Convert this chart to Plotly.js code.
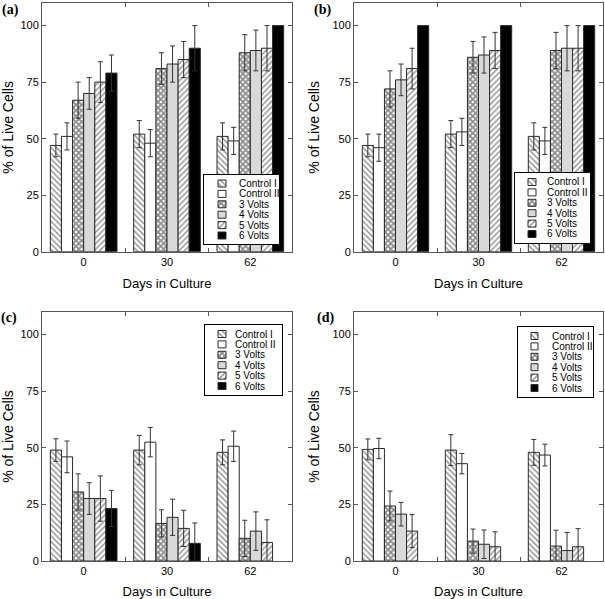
<!DOCTYPE html>
<html><head><meta charset="utf-8">
<script src="https://cdn.plot.ly/plotly-3.0.1.min.js"></script>
<style>html,body{margin:0;padding:0;background:#fff}#chart{width:605px;height:599px}</style>
</head><body><div id="chart"></div>
<script>
// ---------- DATA ----------
const days = ['0', '30', '62'];
const seriesNames = ['Control I', 'Control II', '3 Volts', '4 Volts', '5 Volts', '6 Volts'];
const panelLabels = ['(a)', '(b)', '(c)', '(d)'];
const yTicks = [0, 25, 50, 75, 100];
const xTitle = 'Days in Culture';
const yTitle = '% of Live Cells';

// rows = series (Control I .. 6 Volts), columns = days (0, 30, 62)
const aMean = [[47, 52, 51], [51, 48, 49], [67, 81, 88], [70, 83, 89], [75, 85, 90], [79, 90, 100]];
const aErr  = [[5, 6, 6], [6, 6, 6], [8, 7, 8], [7, 8, 9], [9, 8, 10], [8, 10, null]];

const bMean = [[47, 52, 51], [46, 53, 49], [72, 86, 89], [76, 87, 90], [81, 89, 90], [100, 100, 100]];
const bErr  = [[5, 6, 6], [6, 6, 6], [8, 7, 8], [7, 8, 10], [9, 8, 10], [null, null, null]];

const cMean = [[49, 49, 48], [46, 52.5, 50.7], [30.5, 16.6, 10], [27.6, 19.3, 13.2], [27.6, 14.4, 8.2], [23.2, 7.8, null]];
const cErr  = [[5, 6.5, 5.5], [7, 6.5, 6.7], [8, 6, 8], [7, 8, 8.5], [10, 8, 10], [8, 9, null]];

const dMean = [[49.3, 49, 48], [49.7, 43, 46.8], [24.3, 8.8, 6.6], [20.7, 7.4, 4.6], [13.2, 6.3, 6.3], [null, null, null]];
const dErr  = [[4.6, 6.8, 5.7], [4.5, 4.5, 4.8], [6.6, 5.3, 7], [5.2, 6.3, 8], [7.3, 6.6, 8], [null, null, null]];

// ---------- STYLE / LAYOUT ----------
const W = 605, H = 599;
const FONT = 'Liberation Sans, Arial, sans-serif';
const px = v => v / W;
const py = v => 1 - v / H;

const panelMeans = [aMean, bMean, cMean, dMean];
const panelErrs = [aErr, bErr, cErr, dErr];

// plot areas in pixels [left, right, top, bottom]
const panelBoxes = [[42, 292, 3, 251.7], [354, 603, 3, 251.7], [42, 292, 312, 561], [354, 603, 312, 561]];
const labelPos = [[10, 10], [322, 10], [9, 318], [325, 318]];
// legend boxes: box [l, r, t, b], swatch [l, r], text start x
const legendBoxes = [
  {box: [204, 279, 175, 244], sw: [218, 226], tx: 237},
  {box: [515, 590, 173, 243], sw: [528, 536], tx: 545},
  {box: [205, 282, 325, 395], sw: [218, 226], tx: 233},
  {box: [518, 593, 327, 397], sw: [531, 538], tx: 550}
];
const rowStep = 10.4;

const hatch = (shape, sol, size) => ({shape: shape, size: size, solidity: sol, fgcolor: '#1a1a1a', bgcolor: 'white', fillmode: 'overlay'});
const seriesStyle = [
  {color: 'white', pattern: hatch('\\', 0.35, 4)},
  {color: 'white'},
  {color: 'white', pattern: hatch('x', 0.7, 4)},
  {color: '#d9d9d9'},
  {color: 'white', pattern: hatch('/', 0.35, 4)},
  {color: 'black'}
];
const mk = s => Object.assign({}, seriesStyle[s], {line: {color: '#2a2a2a', width: 1}});

const traces = [];
const layout = {
  width: W, height: H,
  margin: {l: 0, r: 0, t: 0, b: 0},
  paper_bgcolor: 'white', plot_bgcolor: 'white',
  showlegend: false,
  barmode: 'group', bargap: 0.2, bargroupgap: 0,
  font: {family: FONT, color: '#000'},
  annotations: []
};

for (let p = 0; p < 4; p++) {
  const xi = p === 0 ? '' : String(p + 1);
  const [l, r, t, b] = panelBoxes[p];
  for (let s = 0; s < seriesNames.length; s++) {
    traces.push({
      type: 'bar', name: seriesNames[s], x: days, y: panelMeans[p][s],
      xaxis: 'x' + xi, yaxis: 'y' + xi,
      marker: mk(s),
      error_y: {type: 'data', array: panelErrs[p][s], visible: true, color: '#333', thickness: 1, width: 2.5},
      hoverinfo: 'skip'
    });
  }
  layout['xaxis' + xi] = {
    domain: [px(l), px(r)], anchor: 'y' + xi, type: 'category',
    range: [-0.5, 2.5], tickson: 'boundaries', ticks: 'inside', ticklen: 4, tickcolor: '#555',
    showline: true, linecolor: '#555', linewidth: 1, mirror: 'ticks',
    showgrid: false, zeroline: false, fixedrange: true,
    tickfont: {family: FONT, size: 11, color: '#000'},
    title: {text: xTitle, font: {family: FONT, size: 13, color: '#000'}, standoff: 11}
  };
  layout['yaxis' + xi] = {
    domain: [py(b), py(t)], anchor: 'x' + xi,
    range: [0, 110], tickvals: yTicks, ticks: 'inside', ticklen: 4, tickcolor: '#555',
    showline: true, linecolor: '#555', linewidth: 1, mirror: 'ticks',
    showgrid: false, zeroline: false, fixedrange: true,
    tickfont: {family: FONT, size: 11, color: '#000'},
    title: {text: yTitle, font: {family: FONT, size: 14, color: '#000'}, standoff: 9}
  };
  layout.annotations.push({
    xref: 'paper', yref: 'paper', x: px(labelPos[p][0]), y: py(labelPos[p][1]),
    xanchor: 'center', yanchor: 'middle', showarrow: false, text: '<b>' + panelLabels[p] + '</b>',
    font: {family: 'Liberation Serif, Times New Roman, serif', size: 14, color: '#000'}
  });
}

// legend subplots (one per panel)
for (let p = 0; p < 4; p++) {
  const li = String(p + 5);
  const L = legendBoxes[p];
  const [bl, br, bt, bb] = L.box;
  const h = bb - bt;
  const m = (h - (seriesNames.length - 1) * rowStep) / 2;
  const swW = L.sw[1] - L.sw[0];
  for (let s = 0; s < seriesNames.length; s++) {
    traces.push({
      type: 'bar', orientation: 'h', name: seriesNames[s], x: [1], y: [seriesNames[s]],
      xaxis: 'x' + li, yaxis: 'y' + li, width: 7 / rowStep, base: 0,
      marker: mk(s), hoverinfo: 'skip'
    });
    layout.annotations.push({
      xref: 'x' + li, yref: 'y' + li, x: (L.tx - L.sw[0]) / swW, y: seriesNames[s],
      xanchor: 'left', yanchor: 'middle', showarrow: false, text: seriesNames[s],
      font: {family: FONT, size: 10, color: '#000'}
    });
  }
  layout['xaxis' + li] = {
    domain: [px(bl), px(br)], anchor: 'y' + li,
    range: [-(L.sw[0] - bl) / swW, (br - L.sw[0]) / swW],
    showline: true, linecolor: '#000', linewidth: 1, mirror: true,
    showticklabels: false, ticks: '', showgrid: false, zeroline: false, fixedrange: true
  };
  layout['yaxis' + li] = {
    domain: [py(bb), py(bt)], anchor: 'x' + li, type: 'category',
    categoryorder: 'array', categoryarray: seriesNames,
    range: [(seriesNames.length - 1) + m / rowStep, -m / rowStep],
    showline: true, linecolor: '#000', linewidth: 1, mirror: true,
    showticklabels: false, ticks: '', showgrid: false, zeroline: false, fixedrange: true
  };
}

Plotly.newPlot('chart', traces, layout, {staticPlot: true, displayModeBar: false});
</script>
</body></html>
